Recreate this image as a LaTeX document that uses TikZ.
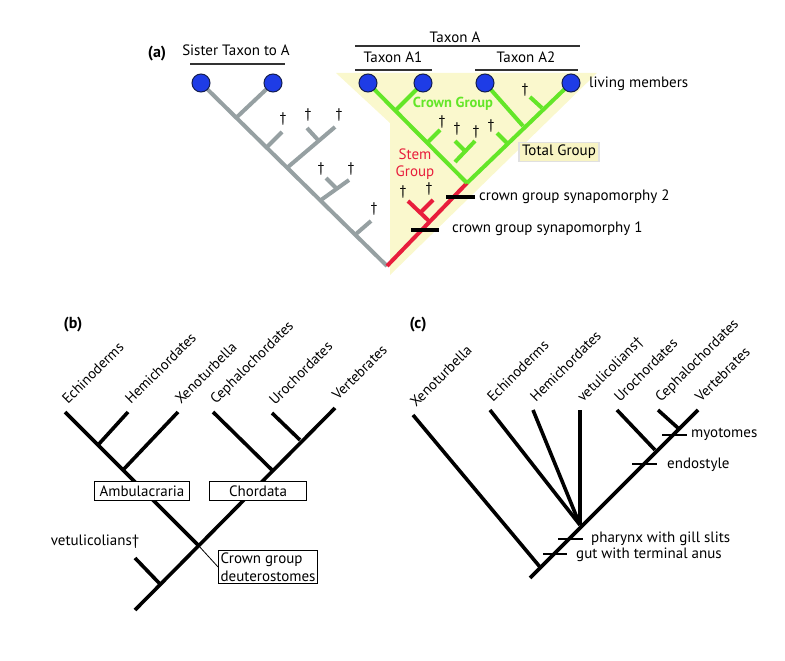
\documentclass[tikz,border=0pt]{standalone}
\usepackage{fontspec}
\setmainfont{PT Sans}
\begin{document}
\begin{tikzpicture}[x=1pt,y=-1pt,
  gr/.style={draw=grayc,line width=4pt},
  gn/.style={draw=greenc,line width=4pt},
  rd/.style={draw=redc,line width=4pt},
  bk/.style={draw=black,line width=3.6pt},
  tick/.style={draw=black,line width=1.3pt},
  bar/.style={draw=black!80,line width=1.3pt},
  leaf/.style={circle,minimum size=18pt,inner sep=0pt,fill=bluec,draw=navyc,line width=1pt},
  txt/.style={font=\fontsize{15}{17}\selectfont,inner sep=1pt},
  dg/.style={font=\fontsize{14}{16}\selectfont,inner sep=0pt},
  lab/.style={font=\fontsize{14.5}{16}\selectfont,inner sep=0pt,anchor=base west,rotate=45},
  box/.style={draw=black,line width=1pt,inner sep=2pt,font=\fontsize{15}{17}\selectfont}]
\definecolor{grayc}{RGB}{150,160,162}
\definecolor{greenc}{RGB}{100,230,40}
\definecolor{redc}{RGB}{232,30,60}
\definecolor{bluec}{RGB}{30,60,230}
\definecolor{navyc}{RGB}{20,30,80}
\definecolor{yel}{RGB}{250,248,205}
\definecolor{yelbox}{RGB}{248,244,195}
\useasboundingbox (0,0) rectangle (785,661);

% ---------- panel (a) ----------
\fill[yel] (336,73) -- (597,73) -- (390,275) -- (390,123) -- cycle;
\node[font=\bfseries\fontsize{16}{18}\selectfont] (la) at (157,54) {(a)};
\node[txt] (tsis) at (236,50) {Sister Taxon to A};
\node[txt] (ta) at (455,37) {Taxon A};
\node[txt] (ta1) at (393,57) {Taxon A1};
\node[txt] (ta2) at (526,57) {Taxon A2};
\coordinate (s1) at (190,64); \coordinate (s2) at (285,64);
\coordinate (a1) at (355,46); \coordinate (a2) at (580,46);
\coordinate (b1) at (355,70); \coordinate (b2) at (432,70);
\coordinate (c1) at (475,70); \coordinate (c2) at (578,70);
\draw[bar] (s1) -- (s2); \draw[bar] (a1) -- (a2);
\draw[bar] (b1) -- (b2); \draw[bar] (c1) -- (c2);

% gray tree
\coordinate (root) at (387,266);
\coordinate (gA) at (237,117); \coordinate (gAe) at (273,83);
\coordinate (gB) at (267,147); \coordinate (gBe) at (282,132);
\coordinate (gC) at (288,167); \coordinate (gCe) at (335,127);
\coordinate (gCs) at (318,140); \coordinate (gCse) at (307,128);
\coordinate (gD) at (321,200); \coordinate (gDe) at (349,180);
\coordinate (gDs) at (337,189); \coordinate (gDse) at (326,178);
\coordinate (gE) at (356,234); \coordinate (gEe) at (371,221);
\coordinate (gtop) at (201,83);
\draw[gr] (root) -- (gtop);
\draw[gr] (gA) -- (gAe);
\draw[gr] (gB) -- (gBe);
\draw[gr] (gC) -- (gCe); \draw[gr] (gCs) -- (gCse);
\draw[gr] (gD) -- (gDe); \draw[gr] (gDs) -- (gDse);
\draw[gr] (gE) -- (gEe);
\node[dg] (d1) at (283,119) {†};
\node[dg] (d2) at (308,115) {†};
\node[dg] (d3) at (339,115) {†};
\node[dg] (d4) at (321,169) {†};
\node[dg] (d5) at (351,169) {†};
\node[dg] (d6) at (374,209) {†};

% red stem
\coordinate (gn) at (467,183);
\coordinate (rB) at (430,222); \coordinate (rBe) at (408,201);
\coordinate (rBs) at (421,212); \coordinate (rBse) at (433,200);
\draw[rd] (root) -- (gn);
\draw[rd] (rB) -- (rBe); \draw[rd] (rBs) -- (rBse);
\node[dg] (d7) at (403,192) {†};
\node[dg] (d8) at (429,189) {†};
\draw[bk] (411,230) coordinate (m1a) -- (439,230) coordinate (m1b);
\draw[bk] (446,197) coordinate (m2a) -- (475,197) coordinate (m2b);
\node[txt,anchor=west] (syn1) at (451,229) {crown group synapomorphy 1};
\node[txt,anchor=west] (syn2) at (478,197) {crown group synapomorphy 2};

% green crown
\coordinate (L1) at (368,83); \coordinate (L2) at (423,83);
\coordinate (L3) at (485,83); \coordinate (L4) at (571,83);
\draw[gn] (gn) -- (L1); \draw[gn] (gn) -- (L4);
\coordinate (k1) at (396,110);
\draw[gn] (k1) -- (L2);
\coordinate (k2) at (428,142); \coordinate (k2e) at (440,130);
\draw[gn] (k2) -- (k2e);
\coordinate (k3) at (455,162); \coordinate (k3e) at (475,141);
\coordinate (k3s) at (465,151); \coordinate (k3se) at (455,141);
\draw[gn] (k3) -- (k3e); \draw[gn] (k3s) -- (k3se);
\coordinate (k4) at (523,126);
\draw[gn] (k4) -- (L3);
\coordinate (k5) at (542,108); \coordinate (k5e) at (530,97);
\draw[gn] (k5) -- (k5e);
\coordinate (k6) at (507,143); \coordinate (k6e) at (497,133);
\draw[gn] (k6) -- (k6e);
\node[dg] (d9) at (442,122) {†};
\node[dg] (d10) at (457,129) {†};
\node[dg] (d11) at (476,132) {†};
\node[dg] (d12) at (491,126) {†};
\node[dg] (d13) at (525,90) {†};

\foreach \n/\p in {c1/gtop,c2/gAe,c3/L1,c4/L2,c5/L3,c6/L4}
  \node[leaf] (\n) at (\p) {};

\node[txt,anchor=west] (living) at (588,84) {living members};
\node[font=\bfseries\fontsize{14.5}{16}\selectfont,text=greenc] (crown) at (453,104) {Crown Group};
\node[txt,text=redc,align=center] (stem) at (415,164) {Stem\\Group};
\node[txt,fill=yelbox,draw=black!12,line width=1.2pt,inner sep=3pt] (total) at (559,152) {Total Group};

% ---------- panel (b) ----------
\node[font=\bfseries\fontsize{16}{18}\selectfont] (lb) at (73,325) {(b)};
\coordinate (broot) at (135,610);
\coordinate (bx) at (198,545);
\coordinate (bVe) at (335,408);
\coordinate (bEc) at (65,412);
\coordinate (bvJ) at (160,584); \coordinate (bvE) at (135,558);
\coordinate (bhJ) at (98,445); \coordinate (bhE) at (128,412);
\coordinate (bxJ) at (123,470); \coordinate (bxE) at (178,412);
\coordinate (bcJ) at (272,470); \coordinate (bcE) at (213,412);
\coordinate (buJ) at (300,440); \coordinate (buE) at (272,413);
\draw[bk] (broot) -- (bVe);
\draw[bk] (bx) -- (bEc);
\draw[bk] (bvJ) -- (bvE);
\draw[bk] (bhJ) -- (bhE);
\draw[bk] (bxJ) -- (bxE);
\draw[bk] (bcJ) -- (bcE);
\draw[bk] (buJ) -- (buE);
\node[lab] (tEc) at ([shift={(3,-7)}]bEc) {Echinoderms};
\node[lab] (tHe) at ([shift={(3,-7)}]bhE) {Hemichordates};
\node[lab] (tXe) at ([shift={(3,-7)}]bxE) {Xenoturbella};
\node[lab] (tCe) at ([shift={(3,-7)}]bcE) {Cephalochordates};
\node[lab] (tUr) at ([shift={(3,-7)}]buE) {Urochordates};
\node[lab] (tVe) at ([shift={(3,-7)}]bVe) {Vertebrates};
\node[box,fill=white,minimum width=95pt,minimum height=19pt] (amb) at (142,491) {Ambulacraria};
\node[box,fill=white,minimum width=97pt,minimum height=19pt] (cho) at (258,491) {Chordata};
\node[box,align=left,fill=white,font=\fontsize{15}{18}\selectfont] (cgd) at (268,567) {Crown group\\deuterostomes};
\draw[black,line width=0.8pt] (bx) -- (cgd.west);
\node[txt] (vet) at (95,542) {vetulicolians†};

% ---------- panel (c) ----------
\node[font=\bfseries\fontsize{16}{18}\selectfont] (lc) at (418,325) {(c)};
\coordinate (croot) at (530,578);
\coordinate (cVe) at (698,410);
\coordinate (cxJ) at (540,567); \coordinate (cxE) at (413,415);
\coordinate (cP) at (580,525);
\coordinate (cEc) at (490,410); \coordinate (cHe) at (533,410); \coordinate (cVt) at (580,410);
\coordinate (cuJ) at (655,450); \coordinate (cuE) at (617,410);
\coordinate (ccJ) at (678,428); \coordinate (ccE) at (658,410);
\draw[bk] (croot) -- (cVe);
\draw[bk] (cxJ) -- (cxE);
\draw[bk] (cP) -- (cEc); \draw[bk] (cP) -- (cHe); \draw[bk] (cP) -- (cVt);
\draw[bk] (cuJ) -- (cuE);
\draw[bk] (ccJ) -- (ccE);
\node[lab] (uXe) at ([shift={(3,-7)}]cxE) {Xenoturbella};
\node[lab] (uEc) at ([shift={(3,-7)}]cEc) {Echinoderms};
\node[lab] (uHe) at ([shift={(3,-7)}]cHe) {Hemichordates};
\node[lab] (uVt) at ([shift={(3,-7)}]cVt) {vetulicolians†};
\node[lab] (uUr) at ([shift={(3,-7)}]cuE) {Urochordates};
\node[lab] (uCe) at ([shift={(3,-7)}]ccE) {Cephalochordates};
\node[lab] (uVe) at ([shift={(3,-7)}]cVe) {Vertebrates};
\draw[tick] (662,435) coordinate (t1a) -- (687,435) coordinate (t1b);
\draw[tick] (632,464) coordinate (t2a) -- (657,464) coordinate (t2b);
\draw[tick] (558,539) coordinate (t3a) -- (583,539) coordinate (t3b);
\draw[tick] (543,554) coordinate (t4a) -- (567,554) coordinate (t4b);
\node[txt,anchor=west] (myo) at (690,434) {myotomes};
\node[txt,anchor=west] (endo) at (666,465) {endostyle};
\node[txt,anchor=west] (phar) at (590,539) {pharynx with gill slits};
\node[txt,anchor=west] (gut) at (575,555) {gut with terminal anus};
\end{tikzpicture}
\end{document}
